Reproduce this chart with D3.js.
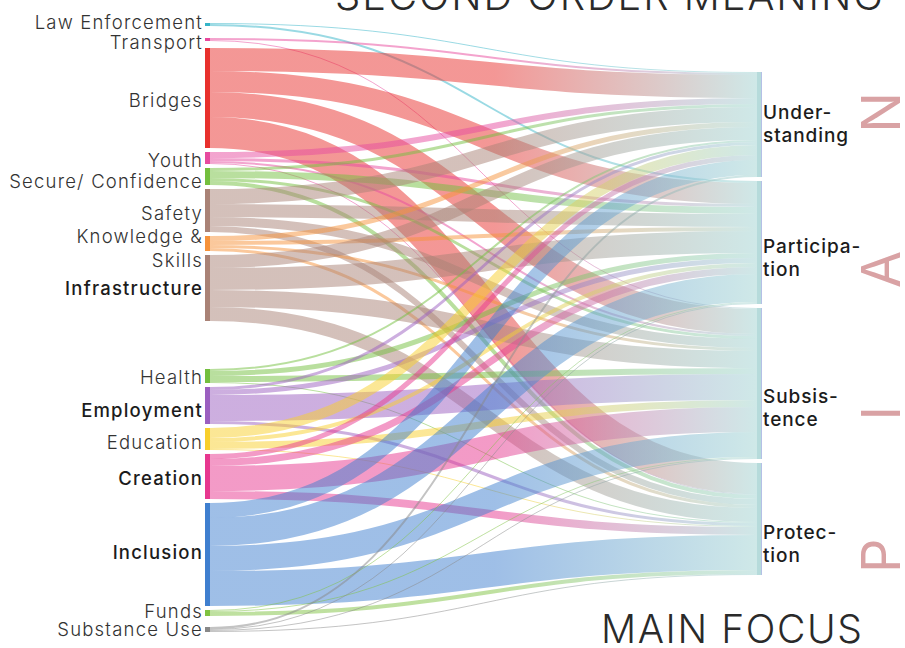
<!DOCTYPE html>
<html>
<head>
<meta charset="utf-8">
<script src="https://cdn.jsdelivr.net/npm/d3@7"></script>
<style>
  html, body { margin: 0; padding: 0; background: #fff; }
  svg { display: block; }
  text { font-family: Inter, "Open Sans", sans-serif; }
</style>
</head>
<body>
<svg id="chart" width="905" height="648"></svg>
<script>
// Source themes (left column), top to bottom
const sources = [
  "Law Enforcement", "Transport", "Bridges", "Youth", "Secure/ Confidence",
  "Safety", "Knowledge & Skills", "Infrastructure", "Health", "Employment",
  "Education", "Creation", "Inclusion", "Funds", "Substance Use"
];
// Left-hand label text (multi-line where wrapped)
const sourceLabels = [
  ["Law Enforcement"], ["Transport"], ["Bridges"], ["Youth"], ["Secure/ Confidence"],
  ["Safety"], ["Knowledge &", "Skills"], ["Infrastructure"], ["Health"], ["Employment"],
  ["Education"], ["Creation"], ["Inclusion"], ["Funds"], ["Substance Use"]
];
const boldSources = ["Infrastructure", "Employment", "Creation", "Inclusion"];
const sourceColors = [
  "#35b4c8", "#e8489c", "#e8302d", "#e64b9f", "#73bf3e",
  "#a98276", "#f6923a", "#a98276", "#73bf3e", "#9b5fc0",
  "#f8cf2c", "#e7378f", "#3f7fcf", "#7fc241", "#888888"
];

// Main focus categories (right column), top to bottom
const targets = ["Understanding", "Participation", "Subsistence", "Protection"];
const targetLabels = [["Under-", "standing"], ["Participa-", "tion"], ["Subsis-", "tence"], ["Protec-", "tion"]];
const targetColor = "#9fd2d1";

// Flow from each source into [Understanding, Participation, Subsistence, Protection]
const flows = [
  [1, 2, 0, 0],     // Law Enforcement
  [2, 0, 1, 0],     // Transport
  [23, 21, 25, 31], // Bridges
  [6, 3, 2, 1],     // Youth
  [3, 7, 3, 4],     // Secure/ Confidence
  [15, 13, 9, 6],   // Safety
  [5, 4, 3, 3],     // Knowledge & Skills
  [13, 22, 17, 14], // Infrastructure
  [2, 5, 6, 1],     // Health
  [3, 5, 26, 3],    // Employment
  [10, 4, 7, 1],    // Education
  [5, 7, 25, 8],    // Creation
  [15, 28, 25, 35], // Inclusion
  [0, 1, 1, 4],     // Funds
  [2, 1, 1, 1]      // Substance Use
];

// ---- layout -------------------------------------------------------------
const leftX = 205, rightX = 757, nodeW = 5;
const leftTop = 23, rightTop = 72, pad = 4;
const extraGap = { "Transport": 8, "Bridges": 3, "Health": 44, "Substance Use": 7 };
const labelShift = { "Law Enforcement": -1.5, "Transport": 3.5, "Secure/ Confidence": 5.5,
                     "Employment": 5, "Inclusion": -1.5, "Knowledge & Skills": 5, "Youth": 3,
                     "Safety": 3.5, "Bridges": 3, "Health": 2, "Education": 4, "Creation": 2.5,
                     "Infrastructure": 1, "Funds": -1.5, "Substance Use": 0.5 };
const targetLabelShift = [-1, 15, 24, 24];

const total = d3.sum(flows.flat());
const y = d3.scaleLinear().domain([0, total]).range([0, 491]);

const srcNodes = sources.map((name, i) => ({ name, i, value: d3.sum(flows[i]) }));
let cy = leftTop;
srcNodes.forEach(n => {
  cy += (extraGap[n.name] || 0);
  n.y0 = cy; n.y1 = cy + y(n.value); cy = n.y1 + pad;
});
const tgtNodes = targets.map((name, j) => ({ name, j, value: d3.sum(flows, r => r[j]) }));
cy = rightTop;
tgtNodes.forEach(n => { n.y0 = cy; n.y1 = cy + y(n.value); cy = n.y1 + pad; });

// links: ordered by target within each source, by source within each target
const links = [];
srcNodes.forEach(s => {
  let off = s.y0;
  targets.forEach((t, j) => {
    const v = flows[s.i][j];
    if (v > 0) { links.push({ s: s.i, t: j, v, ys: off + y(v) / 2 }); off += y(v); }
  });
});
tgtNodes.forEach(t => {
  let off = t.y0;
  links.filter(l => l.t === t.j).sort((a, b) => a.s - b.s).forEach(l => {
    l.yt = off + y(l.v) / 2; off += y(l.v);
  });
});

const svg = d3.select("#chart");
const defs = svg.append("defs");

const linkPath = d3.linkHorizontal()
  .source(d => [leftX + nodeW, d.ys])
  .target(d => [rightX, d.yt]);

links.forEach((l, k) => {
  const g = defs.append("linearGradient")
    .attr("id", "lg" + k)
    .attr("gradientUnits", "userSpaceOnUse")
    .attr("x1", leftX + nodeW).attr("x2", rightX).attr("y1", 0).attr("y2", 0);
  g.append("stop").attr("offset", "0%").attr("stop-color", sourceColors[l.s]);
  g.append("stop").attr("offset", "52%").attr("stop-color", sourceColors[l.s]);
  g.append("stop").attr("offset", "100%").attr("stop-color", targetColor);
});

svg.append("g")
  .attr("fill", "none")
  .selectAll("path")
  .data(links)
  .join("path")
  .attr("d", linkPath)
  .attr("stroke", (d, k) => `url(#lg${k})`)
  .attr("stroke-width", d => Math.max(1, y(d.v)))
  .attr("stroke-opacity", 0.5);

// source nodes
svg.append("g").selectAll("rect")
  .data(srcNodes)
  .join("rect")
  .attr("x", leftX).attr("width", nodeW)
  .attr("y", d => d.y0).attr("height", d => Math.max(1, d.y1 - d.y0))
  .attr("fill", d => sourceColors[d.i]);

// target nodes
svg.append("g").selectAll("rect")
  .data(tgtNodes)
  .join("rect")
  .attr("x", rightX).attr("width", nodeW)
  .attr("y", d => d.y0).attr("height", d => d.y1 - d.y0)
  .attr("fill", "#b6dbdb");
svg.append("g").selectAll("line")
  .data(tgtNodes)
  .join("line")
  .attr("x1", rightX + nodeW - 0.5).attr("x2", rightX + nodeW - 0.5)
  .attr("y1", d => d.y0).attr("y2", d => d.y1)
  .attr("stroke", "#b4c0e6").attr("stroke-width", 1);

// source labels
const sl = svg.append("g").selectAll("text")
  .data(srcNodes)
  .join("text")
  .attr("text-anchor", "end")
  .attr("x", leftX - 2)
  .attr("font-size", 18.5)
  .attr("letter-spacing", 1.2)
  .attr("font-weight", d => boldSources.includes(d.name) ? 500 : 300)
  .attr("fill", d => boldSources.includes(d.name) ? "#1c1c1c" : "#333")
  .attr("y", d => {
    const lines = sourceLabels[d.i].length;
    const shift = labelShift[d.name] !== undefined ? labelShift[d.name] : 3;
    return (d.y0 + d.y1) / 2 + shift - (lines - 1) * 12;
  });
sl.selectAll("tspan")
  .data(d => sourceLabels[d.i])
  .join("tspan")
  .attr("x", leftX - 2)
  .attr("dy", (d, i) => i === 0 ? "0.35em" : 24)
  .text(d => d);

// target labels
const tl = svg.append("g").selectAll("text")
  .data(tgtNodes)
  .join("text")
  .attr("x", rightX + nodeW + 1)
  .attr("font-size", 19)
  .attr("letter-spacing", 0.9)
  .attr("font-weight", 500)
  .attr("fill", "#1c1c1c")
  .attr("y", d => (d.y0 + d.y1) / 2 + targetLabelShift[d.j] - 11);
tl.selectAll("tspan")
  .data(d => targetLabels[d.j])
  .join("tspan")
  .attr("x", rightX + nodeW + 1)
  .attr("dy", (d, i) => i === 0 ? "0.35em" : 23)
  .text(d => d);

// titles
svg.append("text")
  .attr("x", 335).attr("y", 10)
  .attr("font-size", 40).attr("font-weight", 300)
  .attr("fill", "#2a2a2a")
  .attr("textLength", 548).attr("lengthAdjust", "spacing")
  .text("SECOND ORDER MEANING");
svg.append("text")
  .attr("x", 601).attr("y", 643)
  .attr("font-size", 39).attr("font-weight", 300)
  .attr("fill", "#2a2a2a")
  .attr("textLength", 261).attr("lengthAdjust", "spacing")
  .text("MAIN FOCUS");

// vertical word along the right edge
svg.append("text")
  .attr("transform", "translate(900,573) rotate(-90)")
  .attr("font-size", 54).attr("font-weight", 400)
  .attr("fill", "#d9a2a4")
  .attr("letter-spacing", 118)
  .text("PIAN");
</script>
</body>
</html>
